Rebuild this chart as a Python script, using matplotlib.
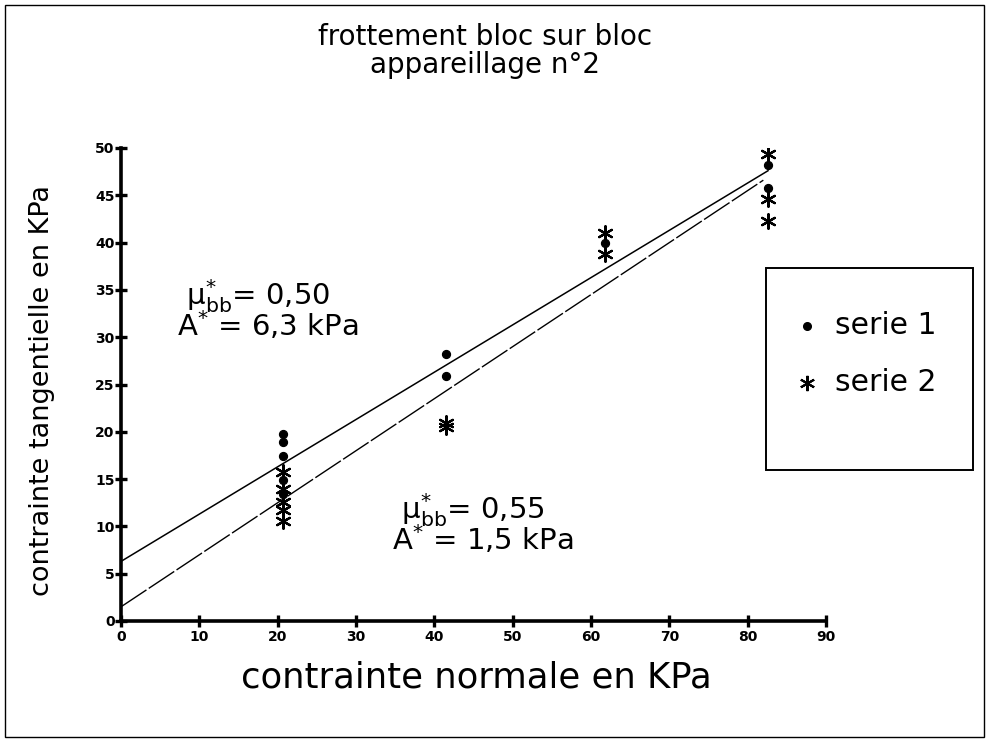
import matplotlib
matplotlib.use("Agg")
import matplotlib.pyplot as plt
from matplotlib.lines import Line2D
from matplotlib.patches import Rectangle
import numpy as np

# ---- data ----
serie1_x = [20.7, 20.7, 20.7, 20.7, 20.7, 41.5, 41.5, 61.8, 82.6, 82.6]
serie1_y = [19.8, 18.9, 17.4, 14.9, 13.4, 28.2, 25.9, 40.0, 48.2, 45.8]
serie2_x = [20.7, 20.7, 20.7, 20.7, 20.7, 41.5, 41.5, 61.8, 61.8, 82.6, 82.6, 82.6]
serie2_y = [15.8, 14.0, 12.6, 11.7, 10.6, 20.9, 20.5, 41.0, 38.8, 49.4, 44.6, 42.3]

fit1_slope, fit1_intercept, fit1_xmax = 0.50, 6.3, 82.6
fit2_slope, fit2_intercept, fit2_xmax = 0.55, 1.5, 82.0

xticks = list(range(0, 91, 10))
yticks = list(range(0, 51, 5))

title_lines = ["frottement bloc sur bloc", "appareillage n°2"]
xlabel = "contrainte normale en KPa"
ylabel = "contrainte tangentielle en KPa"
legend_labels = ["serie 1", "serie 2"]
annot1 = (r" $\mathregular{\mu_{bb}^{*}}$= 0,50", r"A$^{*}$ = 6,3 kPa")
annot2 = (r" $\mathregular{\mu_{bb}^{*}}$= 0,55", r"A$^{*}$ = 1,5 kPa")

# ---- figure ----
W, H, DPI = 989, 742, 100
fig = plt.figure(figsize=(W / DPI, H / DPI), dpi=DPI)
fig.patch.set_facecolor("white")

ax = fig.add_axes([121 / W, 1 - 621 / H, (826 - 121) / W, (621 - 148) / H])
ax.set_xlim(0, 90)
ax.set_ylim(0, 50)

for s in ["top", "right"]:
    ax.spines[s].set_visible(False)
for s in ["left", "bottom"]:
    ax.spines[s].set_linewidth(2.6)
    ax.spines[s].set_color("black")
    ax.spines[s].set_zorder(5)

ax.set_xticks(xticks)
ax.set_yticks(yticks)
ax.tick_params(direction="inout", length=9, width=2.4, colors="black",
               labelsize=10, pad=2)
ax.tick_params(axis="y", pad=0)
for lab in ax.get_xticklabels() + ax.get_yticklabels():
    lab.set_fontweight("bold")

# fit lines
xs1 = np.array([0, fit1_xmax])
ax.plot(xs1, fit1_slope * xs1 + fit1_intercept, color="black", lw=1.1, zorder=2)
xs2 = np.array([0, fit2_xmax])
ax.plot(xs2, fit2_slope * xs2 + fit2_intercept, color="black", lw=1.0,
        linestyle=(0, (22, 2)), zorder=2)

# points
ax.scatter(serie1_x, serie1_y, s=32, marker="o", color="black", zorder=3)
ax.scatter(serie2_x, serie2_y, s=110, marker=(6, 2, 0), color="black",
           linewidths=1.6, zorder=3)

# annotations (two lines each, in one text)
ax.text(7.2, 32.9, annot1[0] + "\n" + annot1[1], fontsize=21, va="center",
        ha="left", linespacing=0.8, multialignment="left")
ax.text(34.6, 10.3, annot2[0] + "\n" + annot2[1], fontsize=21, va="center",
        ha="left", linespacing=0.8, multialignment="left")

# labels
fig.text(476 / W, 1 - 677 / H, xlabel, fontsize=25.5, ha="center", va="center")
fig.text(42 / W, 1 - 390 / H, ylabel, fontsize=19.5, ha="center", va="center",
         rotation=90)
fig.text(485 / W, 1 - 37 / H, title_lines[0], fontsize=20, ha="center", va="center")
fig.text(485 / W, 1 - 65 / H, title_lines[1], fontsize=20, ha="center", va="center")

# legend box
lx0, lx1, ly0, ly1 = 766 / W, 973 / W, 1 - 470 / H, 1 - 268 / H
fig.patches.append(Rectangle((lx0, ly0), lx1 - lx0, ly1 - ly0, transform=fig.transFigure,
                             fill=False, edgecolor="black", lw=1.4))
fig.add_artist(Line2D([807 / W], [1 - 326 / H], marker="o", markersize=5.5,
                      color="black", transform=fig.transFigure))
fig.add_artist(Line2D([807 / W], [1 - 383 / H], marker=(6, 2, 0), markersize=11,
                      markeredgewidth=1.5, color="black", transform=fig.transFigure))
fig.text(835 / W, 1 - 326 / H, legend_labels[0], fontsize=21.5, va="center", ha="left")
fig.text(835 / W, 1 - 383 / H, legend_labels[1], fontsize=21.5, va="center", ha="left")

# outer frame
fig.patches.append(Rectangle((5 / W, 5 / H), (W - 10) / W, (H - 10) / H,
                             transform=fig.transFigure, fill=False,
                             edgecolor="black", lw=1.0))

fig.savefig("out.png", dpi=DPI)
